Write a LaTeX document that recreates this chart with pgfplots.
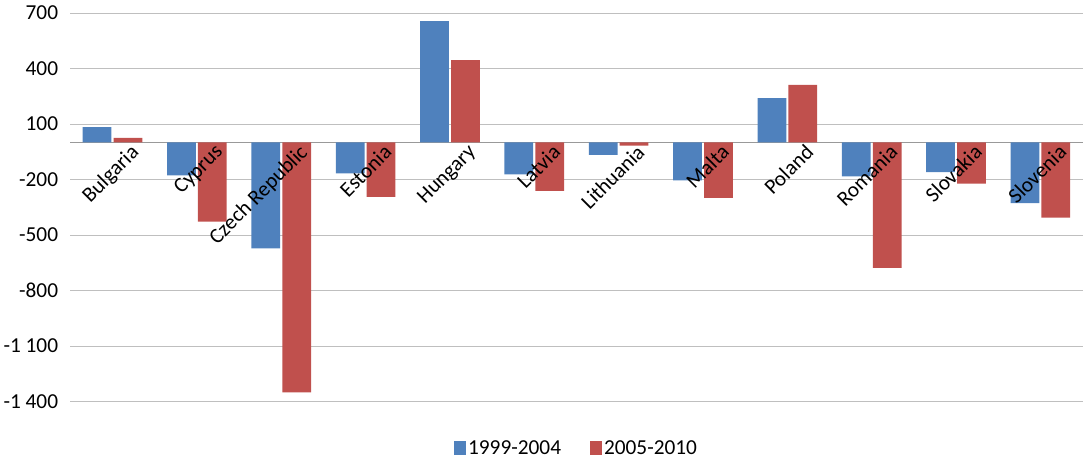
\documentclass[border=0pt]{standalone}
\usepackage{pgfplots}
\pgfplotsset{compat=1.18}
\usepackage{fontspec}
\setmainfont{Carlito}
\definecolor{cb}{RGB}{79,129,189}
\definecolor{cr}{RGB}{192,80,77}
\begin{document}
\begin{tikzpicture}
\begin{axis}[
  name=ax,
  font=\fontsize{20}{24}\selectfont,
  scale only axis, width=950pt, height=365pt,
  ymin=-1400, ymax=700, xmin=-0.5, xmax=11.5,
  ytick={-1400,-1100,-800,-500,-200,100,400,700},
  yticklabels={-1 400,-1 100,-800,-500,-200,100,400,700},
  extra y ticks={0}, extra y tick labels={},
  extra y tick style={grid style={gray!80,thick}},
  ymajorgrids, grid style={gray!50},
  axis line style={draw=none},
  ybar, bar width=27pt,
  xtick=\empty, major tick length=0pt,
  yticklabel style={xshift=-8pt},
  clip=false,
  legend style={at={(0.5,-0.09)},anchor=north,draw=none,legend columns=2,/tikz/every even column/.append style={column sep=25pt}},
  legend image code/.code={\fill[#1] (0cm,-0.2cm) rectangle (0.4cm,0.25cm);},
]
\addplot[fill=cb,draw=none] coordinates {(0,83)(1,-178)(2,-572)(3,-167)(4,655)(5,-172)(6,-67)(7,-205)(8,239)(9,-183)(10,-161)(11,-328)};
\addplot[fill=cr,draw=none] coordinates {(0,25)(1,-428)(2,-1350)(3,-294)(4,444)(5,-261)(6,-17)(7,-300)(8,311)(9,-678)(10,-222)(11,-406)};
\legend{1999-2004,2005-2010}
\pgfplotsinvokeforeach{0/Bulgaria,1/Cyprus,2/Czech Republic,3/Estonia,4/Hungary,5/Latvia,6/Lithuania,7/Malta,8/Poland,9/Romania,10/Slovakia,11/Slovenia}{
  \pgfplotsextra{\foreach \i/\n in {#1} {\node[rotate=45,anchor=north east,inner sep=1pt] at (axis cs:\i+0.2,5) {\n};}}
}
\end{axis}
\path ([yshift=12pt]ax.north);
\end{tikzpicture}
\end{document}
